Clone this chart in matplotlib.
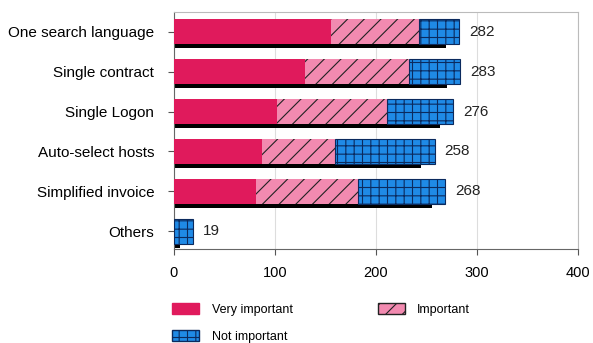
import matplotlib.pyplot as plt
import matplotlib.patches as mpatches
import numpy as np

plt.rcParams['font.family'] = ['Liberation Sans', 'DejaVu Sans']
plt.rcParams['hatch.linewidth'] = 0.8

categories = ["One search language", "Single contract", "Single Logon",
              "Auto-select hosts", "Simplified invoice", "Others"]
very_important = [156, 130, 102, 87, 81, 0]
important = [87, 103, 109, 72, 101, 0]
not_important = [39, 50, 65, 99, 86, 19]
totals = [282, 283, 276, 258, 268, 19]

C_VERY = "#e01a5c"
C_IMP = "#f28ab0"
C_NOT = "#1f8ae6"


def main():
    "stacked horizontal bars with a dark shadow strip under each"
    fig = plt.figure(figsize=(5.93, 3.43), dpi=100)
    ax = fig.add_axes([0.293, 0.274, 0.682, 0.691])

    y = np.arange(len(categories))
    very = np.array(very_important)
    imp = np.array(important)
    notimp = np.array(not_important)
    tot = np.array(totals)
    h = 0.63

    # shadow strip sitting under each bar
    ax.barh(y + h / 2 + 0.05, tot - 12, height=0.1, left=-1,
            color="black", zorder=2)

    ax.barh(y, very, height=h, color=C_VERY, linewidth=0, zorder=3)
    ax.barh(y, imp, height=h, left=very, color=C_IMP, edgecolor="#222222",
            hatch="//", linewidth=0, zorder=3)
    ax.barh(y, notimp, height=h, left=very + imp, color=C_NOT,
            edgecolor="#0b2a5e", hatch="++", linewidth=0.8, zorder=3)

    for yi, t in zip(y, tot):
        ax.text(t + 10, yi, str(t), va="center", ha="left", fontsize=11,
                color="#222222")

    ax.set_yticks(y)
    ax.set_yticklabels(categories, fontsize=11)
    ax.set_ylim(5.45, -0.5)
    ax.set_xlim(0, 400)
    ax.set_xticks([0, 100, 200, 300, 400])
    ax.tick_params(axis="x", labelsize=10.5, length=4, pad=8, color="#555555")
    ax.tick_params(axis="y", length=4, pad=10, color="#555555")
    ax.xaxis.grid(True, color="#dddddd", linewidth=0.8, zorder=0)
    ax.set_axisbelow(True)
    for side in ["top", "right"]:
        ax.spines[side].set_color("#bbbbbb")
        ax.spines[side].set_linewidth(0.8)
    for side in ["left", "bottom"]:
        ax.spines[side].set_color("#666666")
        ax.spines[side].set_linewidth(0.8)

    handles = [
        mpatches.Patch(facecolor=C_VERY, edgecolor=C_VERY, label="Very important"),
        mpatches.Patch(facecolor=C_NOT, edgecolor="#0b2a5e", hatch="++",
                       label="Not important"),
        mpatches.Patch(facecolor=C_IMP, edgecolor="#222222", hatch="//",
                       label="Important"),
    ]
    fig.legend(handles=handles, ncol=2, loc="upper left",
               bbox_to_anchor=(0.2715, 0.149), frameon=False, fontsize=9,
               handlelength=2.16, handleheight=1.0, handletextpad=1.0,
               columnspacing=6.8, labelspacing=1.1)

    plt.savefig("out.png", dpi=100)


if __name__ == "__main__":
    main()
